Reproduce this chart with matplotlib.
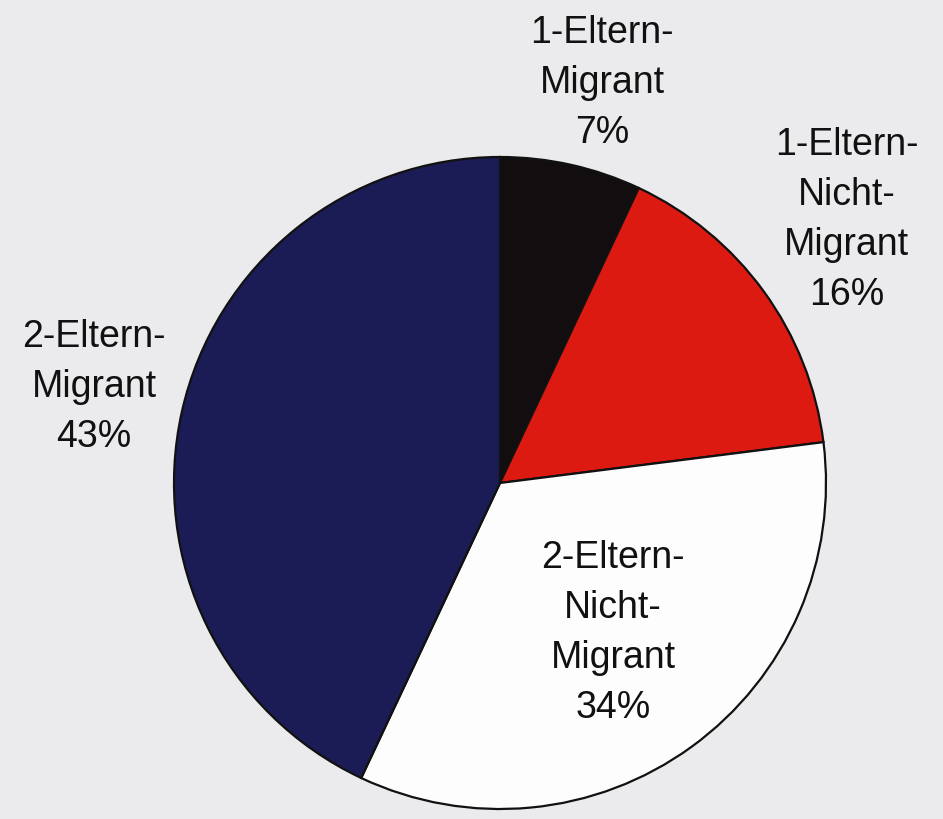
import matplotlib
matplotlib.use("Agg")
import matplotlib.pyplot as plt

plt.rcParams["font.family"] = ["Liberation Sans", "DejaVu Sans"]

# slices, clockwise from 12 o'clock
categories = ["1-Eltern-\nMigrant", "1-Eltern-\nNicht-\nMigrant", "2-Eltern-\nNicht-\nMigrant", "2-Eltern-\nMigrant"]
shares = [7, 16, 34, 43]
colors = ["#120e10", "#dc1a12", "#fdfdfd", "#1b1c55"]

# label centres in pie-radius units (layout only)
label_pos = [(0.313, 1.227), (1.064, 0.808), (0.347, -0.460), (-1.245, 0.296)]

fig = plt.figure(figsize=(9.43, 8.19), dpi=100)
fig.patch.set_facecolor("#ebebed")

cx, cy, r = 500, 483, 326
W, H = 943, 819
ax = fig.add_axes([(cx - r) / W, (H - cy - r) / H, 2 * r / W, 2 * r / H])
ax.set_facecolor("none")

ax.pie(
    shares,
    colors=colors,
    startangle=90,
    counterclock=False,
    radius=1.0,
    wedgeprops={"edgecolor": "#111111", "linewidth": 1.6},
)
ax.set_xlim(-1, 1)
ax.set_ylim(-1, 1)
ax.set_aspect("equal")
ax.axis("off")

for cat, share, (x, y) in zip(categories, shares, label_pos):
    ax.text(x, y, f"{cat}\n{share}%", ha="center", va="center", multialignment="center",
            fontsize=27, linespacing=1.5, color="#111111")

fig.savefig("out.png", dpi=100, facecolor=fig.get_facecolor())
